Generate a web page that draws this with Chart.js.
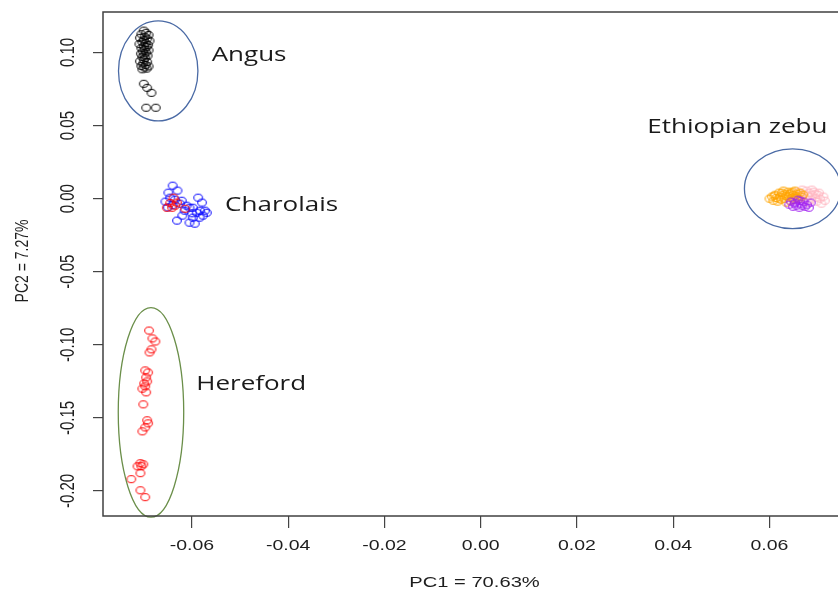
<!DOCTYPE html>
<html>
<head>
<meta charset="utf-8">
<script src="https://cdn.jsdelivr.net/npm/chart.js@4"></script>
<style>
  html, body { margin: 0; padding: 0; background: #fff; overflow: hidden; }
  #wrap { width: 852px; height: 592px; }
</style>
</head>
<body>
<div id="wrap"><canvas id="pcaChart" width="852" height="592"></canvas></div>
<script>
// 축 눈금
const xTicks = [-0.06, -0.04, -0.02, 0.00, 0.02, 0.04, 0.06];
const yTicks = [0.10, 0.05, 0.00, -0.05, -0.10, -0.15, -0.20];

// Angus (black)
const angusPC1 = [-0.0700, -0.0695, -0.0705, -0.0690, -0.0698, -0.0708, -0.0693, -0.0700, -0.0688, -0.0703,
                  -0.0696, -0.0709, -0.0691, -0.0700, -0.0694, -0.0705, -0.0698, -0.0690, -0.0702, -0.0695,
                  -0.0706, -0.0699, -0.0692, -0.0703, -0.0697, -0.0700, -0.0708, -0.0693, -0.0701, -0.0696,
                  -0.0705, -0.0690, -0.0699, -0.0694, -0.0703, -0.0700, -0.0693, -0.0684, -0.0695, -0.0675];
const angusPC2 = [0.1150, 0.1135, 0.1125, 0.1120, 0.1108, 0.1100, 0.1095, 0.1085, 0.1080, 0.1072,
                  0.1065, 0.1058, 0.1052, 0.1045, 0.1038, 0.1030, 0.1022, 0.1015, 0.1008, 0.1000,
                  0.0992, 0.0985, 0.0978, 0.0970, 0.0962, 0.0952, 0.0940, 0.0935, 0.0925, 0.0915,
                  0.0908, 0.0905, 0.0898, 0.0890, 0.0885, 0.0786, 0.0758, 0.0724, 0.0622, 0.0622];

// Charolais (blue)
const charPC1 = [-0.0640, -0.0649, -0.0630, -0.0645, -0.0635, -0.0621, -0.0625, -0.0611, -0.0605, -0.0598,
                 -0.0587, -0.0579, -0.0583, -0.0590, -0.0573, -0.0569, -0.0620, -0.0631, -0.0605, -0.0594,
                 -0.0598, -0.0584, -0.0577, -0.0615, -0.0600, -0.0655, -0.0650, -0.0640];
const charPC2 = [0.0089, 0.0041, 0.0055, 0.0007, -0.0007, -0.0014, -0.0034, -0.0048, -0.0062, -0.0062,
                 0.0007, -0.0027, -0.0082, -0.0096, -0.0082, -0.0096, -0.0116, -0.0150, -0.0164, -0.0171,
                 -0.0130, -0.0130, -0.0116, -0.0082, -0.0100, -0.0020, -0.0060, -0.0045];

// Hereford (red) - 일부는 Charolais 근처
const herefPC1 = [-0.0638, -0.0631, -0.0652, -0.0641, -0.0635, -0.0614, -0.0645,
                  -0.0689, -0.0682, -0.0676, -0.0684, -0.0688, -0.0697, -0.0691, -0.0695, -0.0693, -0.0699,
                  -0.0697, -0.0703, -0.0695, -0.0701, -0.0693, -0.0691, -0.0697, -0.0703, -0.0707, -0.0701,
                  -0.0713, -0.0705, -0.0707, -0.0726, -0.0707, -0.0697];
const herefPC2 = [0.0007, -0.0027, -0.0062, -0.0062, -0.0048, -0.0069, -0.0030,
                  -0.0902, -0.0956, -0.0977, -0.1031, -0.1052, -0.1175, -0.1189, -0.1223, -0.1250, -0.1264,
                  -0.1284, -0.1300, -0.1325, -0.1407, -0.1516, -0.1537, -0.1565, -0.1592, -0.1810, -0.1817,
                  -0.1831, -0.1830, -0.1878, -0.1919, -0.1995, -0.2042];

// Ethiopian zebu
const orangePC1 = [0.0600, 0.0605, 0.0608, 0.0612, 0.0614, 0.0617, 0.0620, 0.0622, 0.0624, 0.0627,
                   0.0629, 0.0631, 0.0633, 0.0635, 0.0637, 0.0639, 0.0641, 0.0643, 0.0645, 0.0647,
                   0.0649, 0.0651, 0.0653, 0.0655, 0.0658, 0.0661, 0.0664, 0.0667, 0.0670, 0.0626,
                   0.0634, 0.0642, 0.0618, 0.0610, 0.0648, 0.0656];
const orangePC2 = [0.0000, 0.0014, -0.0014, 0.0027, 0.0005, -0.0020, 0.0041, 0.0014, -0.0007, 0.0027,
                   0.0055, 0.0000, 0.0034, -0.0027, 0.0014, 0.0048, 0.0020, -0.0014, 0.0041, 0.0007,
                   0.0027, -0.0007, 0.0055, 0.0020, 0.0034, 0.0000, 0.0041, 0.0014, 0.0027, 0.0041,
                   0.0020, 0.0034, 0.0000, 0.0020, 0.0048, 0.0007];
const pinkPC1 = [0.0660, 0.0664, 0.0668, 0.0671, 0.0674, 0.0677, 0.0680, 0.0683, 0.0686, 0.0689, 0.0692,
                 0.0695, 0.0698, 0.0701, 0.0705, 0.0708, 0.0712, 0.0715, 0.0678, 0.0688, 0.0696, 0.0703];
const pinkPC2 = [0.0048, 0.0020, 0.0062, 0.0034, 0.0000, 0.0055, 0.0020, 0.0041, -0.0007, 0.0027, 0.0048,
                 0.0007, -0.0020, 0.0027, 0.0000, -0.0034, 0.0014, -0.0014, -0.0027, 0.0062, 0.0034, 0.0041];
const purplePC1 = [0.0641, 0.0645, 0.0649, 0.0653, 0.0656, 0.0659, 0.0662, 0.0665,
                   0.0668, 0.0671, 0.0674, 0.0678, 0.0682, 0.0686, 0.0664, 0.0652];
const purplePC2 = [-0.0041, -0.0020, -0.0055, -0.0027, -0.0048, -0.0007, -0.0062, -0.0034,
                   -0.0048, -0.0020, -0.0055, -0.0041, -0.0062, -0.0027, -0.0014, -0.0034];

// 그룹 이름 (데이터 좌표)
const groupNames = ['Angus', 'Charolais', 'Hereford', 'Ethiopian zebu'];
const groupNameX = [-0.0559, -0.0531, -0.0591, 0.0346];
const groupNameY = [0.0983, -0.0043, -0.1268, 0.0491];

// 타원 (중심, 반지름: 데이터 단위)
const ellipseCX = [-0.0670, -0.0685, 0.0648];
const ellipseCY = [0.0874, -0.1462, 0.0068];
const ellipseRX = [0.00825, 0.0068, 0.0100];
const ellipseRY = [0.0342, 0.0717, 0.0273];
const ellipseColor = ['#4a6aa5', '#6b8f4a', '#4a6aa5'];

const SX = 1.3; // 원본 그림이 가로로 늘어나 있음

function toPoints(xs, ys) {
    return xs.map((x, i) => ({ x: x, y: ys[i] }));
}

// 가로로 늘어난 빈 원
function makeRing(color) {
    const c = document.createElement('canvas');
    c.width = 12; c.height = 10;
    const g = c.getContext('2d');
    g.strokeStyle = color;
    g.lineWidth = 1;
    g.beginPath();
    g.ellipse(6, 5, 4.3, 3.5, 0, 0, Math.PI * 2);
    g.stroke();
    return c;
}

function ds(label, xs, ys, color) {
    return {
        label: label,
        data: toPoints(xs, ys),
        pointStyle: makeRing(color),
        borderColor: color,
        backgroundColor: 'transparent'
    };
}

function stretchedText(ctx, text, x, y, font, align, rotate) {
    ctx.save();
    ctx.translate(x, y);
    ctx.scale(SX, 1);
    if (rotate) ctx.rotate(-Math.PI / 2);
    ctx.font = font;
    ctx.textAlign = align;
    ctx.textBaseline = 'middle';
    ctx.fillText(text, 0, 0);
    ctx.restore();
}

const decorPlugin = {
    id: 'decor',
    afterDatasetsDraw(chart) {
        const ctx = chart.ctx;
        const xs = chart.scales.x, ys = chart.scales.y;
        ctx.save();
        ctx.lineWidth = 1.3;
        for (let i = 0; i < ellipseCX.length; i++) {
            const cx = xs.getPixelForValue(ellipseCX[i]);
            const cy = ys.getPixelForValue(ellipseCY[i]);
            const rx = Math.abs(xs.getPixelForValue(ellipseCX[i] + ellipseRX[i]) - cx);
            const ry = Math.abs(ys.getPixelForValue(ellipseCY[i] + ellipseRY[i]) - cy);
            ctx.strokeStyle = ellipseColor[i];
            ctx.beginPath();
            ctx.ellipse(cx, cy, rx, ry, 0, 0, Math.PI * 2);
            ctx.stroke();
        }
        ctx.restore();
    },
    afterDraw(chart) {
        const ctx = chart.ctx;
        const a = chart.chartArea;
        const xs = chart.scales.x, ys = chart.scales.y;

        // 테두리
        ctx.save();
        ctx.strokeStyle = '#404040';
        ctx.lineWidth = 1.5;
        ctx.strokeRect(a.left, a.top, a.right - a.left, a.bottom - a.top);

        ctx.fillStyle = '#1e1e1e';
        const tickFont = '15px "Liberation Sans", Arial, sans-serif';
        xTicks.forEach(v => {
            stretchedText(ctx, v.toFixed(2), xs.getPixelForValue(v), 546, tickFont, 'center', false);
        });
        yTicks.forEach(v => {
            stretchedText(ctx, v.toFixed(2), 69, ys.getPixelForValue(v), tickFont, 'center', true);
        });
        stretchedText(ctx, 'PC1 = 70.63%', (a.left + a.right) / 2, 583, '15.5px "Liberation Sans", Arial, sans-serif', 'center', false);
        stretchedText(ctx, 'PC2 = 7.27%', 23, (a.top + a.bottom) / 2 - 3, '14px "Liberation Sans", Arial, sans-serif', 'center', true);

        ctx.fillStyle = '#1a1a1a';
        groupNames.forEach((n, i) => {
            stretchedText(ctx, n, xs.getPixelForValue(groupNameX[i]), ys.getPixelForValue(groupNameY[i]),
                '20px "Open Sans", "Noto Sans", sans-serif', 'left', false);
        });
        ctx.restore();
    }
};

const ctx = document.getElementById('pcaChart').getContext('2d');
const pcaChart = new Chart(ctx, {
    type: 'scatter',
    data: {
        datasets: [
            ds('Ethiopian zebu 3', purplePC1, purplePC2, '#a020f0'),
            ds('Ethiopian zebu 1', orangePC1, orangePC2, '#ffa500'),
            ds('Ethiopian zebu 2', pinkPC1, pinkPC2, '#ffb6c1'),
            ds('Angus', angusPC1, angusPC2, '#000000'),
            ds('Hereford', herefPC1, herefPC2, '#ff0000'),
            ds('Charolais', charPC1, charPC2, '#0000ff')
        ]
    },
    options: {
        responsive: false,
        devicePixelRatio: 1,
        animation: false,
        layout: { padding: { top: 12, right: 1, left: 0, bottom: 0 } },
        elements: { point: { radius: 5, hoverRadius: 5 } },
        scales: {
            x: {
                type: 'linear',
                min: -0.07847,
                max: 0.0759,
                afterBuildTicks: s => { s.ticks = xTicks.map(v => ({ value: v })); },
                afterFit: s => { s.height = 76; },
                ticks: { color: 'transparent', autoSkip: false },
                border: { display: false },
                grid: { drawOnChartArea: false, drawTicks: true, tickLength: 12, color: '#444', lineWidth: 1.2 }
            },
            y: {
                type: 'linear',
                min: -0.2171,
                max: 0.1277,
                afterBuildTicks: s => { s.ticks = yTicks.map(v => ({ value: v })); },
                afterFit: s => { s.width = 103; },
                ticks: { color: 'transparent', autoSkip: false },
                border: { display: false },
                grid: { drawOnChartArea: false, drawTicks: true, tickLength: 10, color: '#444', lineWidth: 1.2 }
            }
        },
        plugins: {
            legend: { display: false },
            tooltip: { enabled: false }
        }
    },
    plugins: [decorPlugin]
});
</script>
</body>
</html>
